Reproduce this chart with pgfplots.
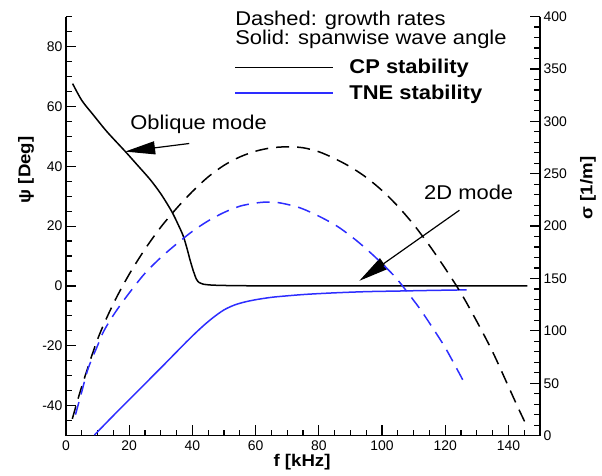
\documentclass[border=0pt]{standalone}
\usepackage{fontspec}
\setmainfont{Liberation Sans}
\newfontfamily\lab{Liberation Sans}[FakeStretch=1.1]
\usepackage{pgfplots}
\pgfplotsset{compat=1.18}
\usetikzlibrary{arrows.meta}
\definecolor{tneblue}{RGB}{45,45,255}
\begin{document}
\begin{tikzpicture}
\pgfplotsset{
  common/.style={
    scale only axis, width=474bp, height=419bp,
    xmin=0, xmax=150,
    clip mode=individual,
    axis line style={line width=1.6bp,-},
    tick align=inside,
    major tick length=10.5bp, minor tick length=6bp,
    every tick/.style={black, line width=1.2bp},
    /pgf/number format/assume math mode=true,
    tick label style={font=\fontsize{14}{16}\selectfont},
  }
}
\begin{axis}[common,
  at={(0,0)}, anchor=south west,
  ymin=-50, ymax=90,
  axis x line*=bottom, axis y line*=left,
  xtick={0,20,...,140}, minor xtick={0,5,...,150},
  ytick={-40,-20,...,80}, minor ytick={-50,-45,...,90},
  xticklabel style={yshift=-2bp},
  xlabel={\fontsize{17}{19}\lab\bfseries f [kHz]},
  xlabel style={at={(axis description cs:0.498,-0.063)}, anchor=center},
  ylabel={\fontsize{17}{19}\lab\bfseries ψ [Deg]},
  ylabel style={at={(axis description cs:-0.0844,0.634)}, anchor=center},
]
% CP stability: spanwise wave angle
\addplot[black, line width=1.5bp, smooth] coordinates {
(2.1,67.6) (5,62) (8.6,57.2) (13,51.5) (18.7,45) (22.5,40.5) (26.6,35.6)
(30,30.8) (33.4,25) (35.5,20.5) (37.1,16.7) (38.3,12.5) (39.2,8.9)
(40.3,5) (41.3,2.2) (42.2,1.1) (43.4,0.6) (46,0.3) (50.8,0.15) (60,0.05)
(80,0) (146,0)};
% TNE stability: spanwise wave angle
\addplot[tneblue, line width=1.5bp, smooth] coordinates {
(9,-49.8) (15,-43.3) (20,-38.0) (25,-32.7) (30,-27.4) (34,-23.1) (38,-18.8)
(41,-15.7) (44,-12.8) (47,-10.2) (50,-8.0) (53,-6.5) (56,-5.5) (60,-4.6)
(65,-3.8) (70,-3.3) (76,-2.8) (85,-2.3) (95,-1.9) (105,-1.7) (115,-1.5)
(126.8,-1.3)};
% legend and annotations
\node[font=\fontsize{20}{22}\lab, anchor=base west, inner sep=0pt] at (axis cs:53.5,86.9) {Dashed: growth rates};
\node[font=\fontsize{20}{22}\lab, anchor=base west, inner sep=0pt] at (axis cs:53.5,80.8) {Solid: spanwise wave angle};
\draw[black, line width=1.5bp] (axis cs:53.5,73.0) -- (axis cs:84.4,73.0);
\draw[tneblue, line width=1.5bp] (axis cs:53.5,64.5) -- (axis cs:84.4,64.5);
\node[font=\fontsize{20}{22}\lab\bfseries, anchor=base west, inner sep=0pt] at (axis cs:89.65,70.9) {CP stability};
\node[font=\fontsize{20}{22}\lab\bfseries, anchor=base west, inner sep=0pt] at (axis cs:89.65,62.4) {TNE stability};
\node[font=\fontsize{20}{22}\lab, anchor=base west, inner sep=0pt] at (axis cs:20.3,52.2) {Oblique mode};
\draw[-{Triangle[length=30bp,width=13bp]}, line width=1.2bp] (axis cs:39.0,47.6) -- (axis cs:18.7,44.9);
\node[font=\fontsize{20}{22}\lab, anchor=base west, inner sep=0pt] at (axis cs:113.3,28.9) {2D mode};
\draw[-{Triangle[length=30bp,width=13bp]}, line width=1.2bp] (axis cs:124.5,25.3) -- (axis cs:92.8,1.7);
\end{axis}
\begin{axis}[common,
  at={(0,0)}, anchor=south west,
  ymin=0, ymax=400,
  axis x line=none, axis y line*=right,
  ytick={0,50,...,400}, minor ytick={0,10,...,400},
  ylabel={\fontsize{17}{19}\lab\bfseries σ [1/m]},
  ylabel style={at={(axis description cs:1.1013,0.591)}, anchor=center},
]
% CP stability: growth rate
\addplot[black, line width=1.5bp, dash pattern=on 13bp off 8bp, smooth] coordinates {
(2,16) (5,47) (10,92) (15,126) (20,154) (25,178) (30,199) (35,217) (40,233)
(45,247) (50,258) (55,266) (60,271.5) (65,274.7) (70,275.7) (75,274.8)
(80,271) (85,264.5) (90,256.5) (95,246.5) (100,234) (105,219) (110,201.5)
(115,181.5) (120,159.5) (125,136) (130,109) (135,80) (140,47) (143,27) (146,8)};
% TNE stability: growth rate
\addplot[tneblue, line width=1.5bp, dash pattern=on 13bp off 8bp, smooth] coordinates {
(3,20) (5,42) (7,64) (10,86) (12,100) (15,115) (18,128) (21,140) (25,155)
(30,170) (35,183) (40,195) (45,205) (50,213) (55,219) (60,222) (64,223)
(68,222) (74,217.5) (80,209.5) (86,199.5) (92,186) (98,170) (104,152)
(108,137) (112,121) (116,103) (120,84) (124,62) (126.3,49)};
\end{axis}
\pgfresetboundingbox
\path (-66bp,-40.4bp) rectangle (536bp,435.6bp);
\end{tikzpicture}
\end{document}
